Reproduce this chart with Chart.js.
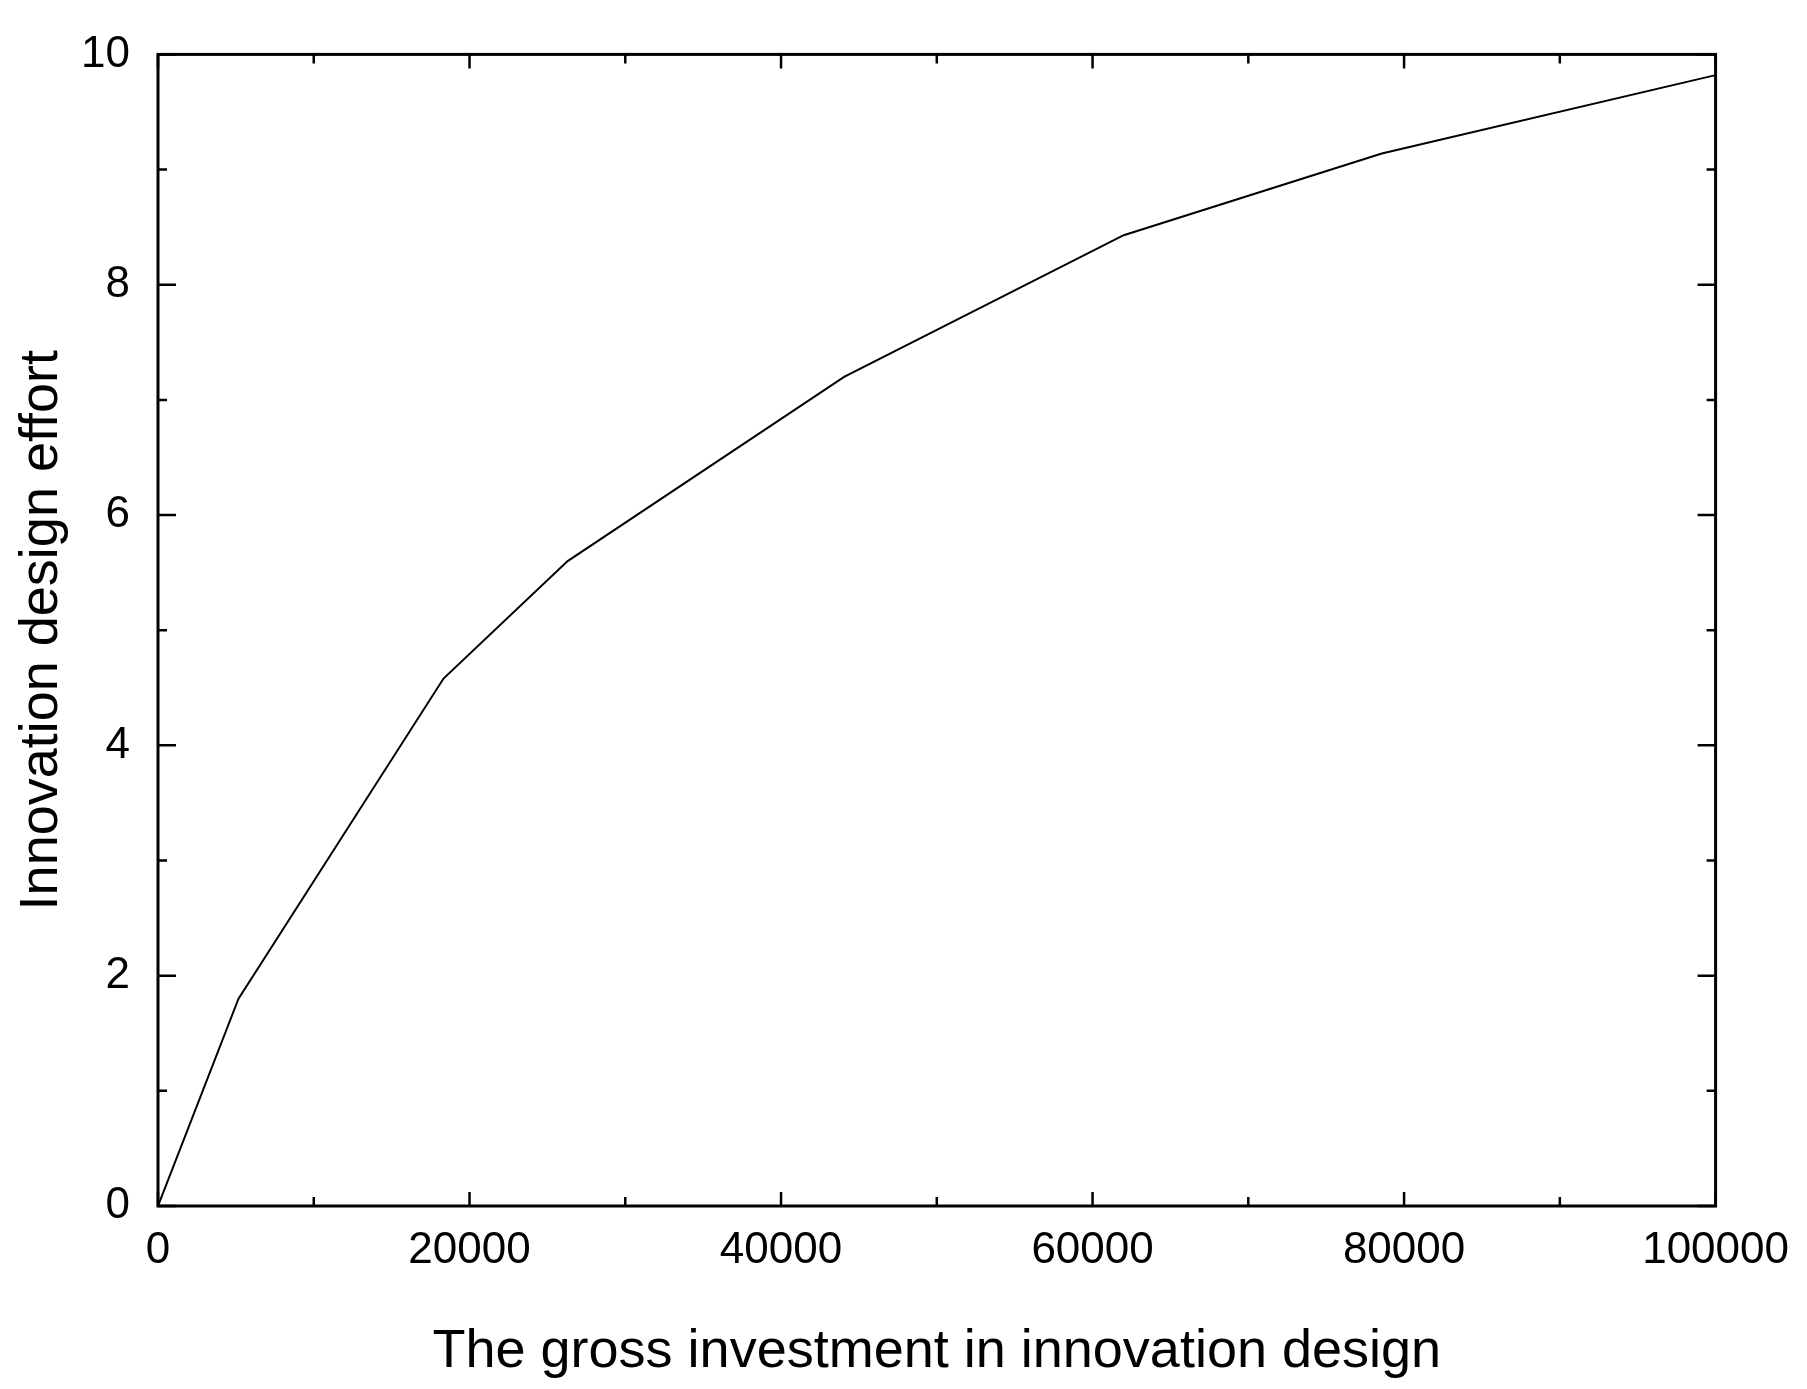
<!DOCTYPE html>
<html><head><meta charset="utf-8">
<script src="https://cdn.jsdelivr.net/npm/chart.js@4"></script>
<style>html,body{margin:0;padding:0;background:#fff}#w{width:1807px;height:1389px}</style>
</head><body><div id="w"><canvas id="c"></canvas></div>
<script>
const investment = [0, 5170, 18330, 26300, 44050, 62000, 78570, 100000];
const effort = [0, 1.8, 4.58, 5.6, 7.2, 8.43, 9.14, 9.82];
const xTicks = [0, 20000, 40000, 60000, 80000, 100000];
const yTicks = [0, 2, 4, 6, 8, 10];
const xTitle = 'The gross investment in innovation design';
const yTitle = 'Innovation design effort';

const frame = {
  id: 'frame',
  afterDraw(chart) {
    const {ctx, chartArea: a, scales: {x, y}} = chart;
    ctx.save();
    ctx.strokeStyle = '#000';
    ctx.lineWidth = 3;
    ctx.strokeRect(a.left, a.top, a.right - a.left, a.bottom - a.top);
    ctx.lineWidth = 2.5;
    ctx.beginPath();
    for (let v = 0; v <= 100000; v += 10000) {
      const p = x.getPixelForValue(v), L = v % 20000 === 0 ? 14 : 9;
      ctx.moveTo(p, a.bottom); ctx.lineTo(p, a.bottom - L);
      ctx.moveTo(p, a.top); ctx.lineTo(p, a.top + L);
    }
    for (let v = 0; v <= 10; v += 1) {
      const p = y.getPixelForValue(v), L = v % 2 === 0 ? 18 : 9;
      ctx.moveTo(a.left, p); ctx.lineTo(a.left + L, p);
      ctx.moveTo(a.right, p); ctx.lineTo(a.right - L, p);
    }
    ctx.stroke();
    ctx.restore();
  }
};

new Chart(document.getElementById('c'), {
  type: 'line',
  data: { datasets: [{ data: investment.map((v, i) => ({x: v, y: effort[i]})),
    borderColor: '#000', borderWidth: 2, pointRadius: 0, tension: 0, fill: false }] },
  options: {
    responsive: true, maintainAspectRatio: false, animation: false,
    layout: { padding: { top: 51, right: 90, left: 0, bottom: 0 } },
    plugins: { legend: { display: false }, tooltip: { enabled: false } },
    scales: {
      x: { type: 'linear', min: 0, max: 100000,
        afterBuildTicks: s => { s.ticks = xTicks.map(v => ({value: v})); },
        afterFit: s => { s.height = 183; },
        grid: { display: false, drawTicks: false }, border: { display: false },
        ticks: { color: '#000', font: { family: 'Liberation Sans, Arial', size: 44 }, padding: 18, maxRotation: 0,
          callback: v => String(v) },
        title: { display: true, text: xTitle, color: '#000', font: { family: 'Liberation Sans, Arial', size: 54 }, padding: { top: 12 } } },
      y: { type: 'linear', min: 0, max: 10,
        afterBuildTicks: s => { s.ticks = yTicks.map(v => ({value: v})); },
        afterFit: s => { s.width = 158; },
        grid: { display: false, drawTicks: false }, border: { display: false },
        ticks: { color: '#000', font: { family: 'Liberation Sans, Arial', size: 44 }, padding: 28,
          callback: v => String(v) },
        title: { display: true, text: yTitle, color: '#000', font: { family: 'Liberation Sans, Arial', size: 54 }, padding: { top: 10, bottom: 0 } } }
    }
  },
  plugins: [frame]
});
</script></body></html>
